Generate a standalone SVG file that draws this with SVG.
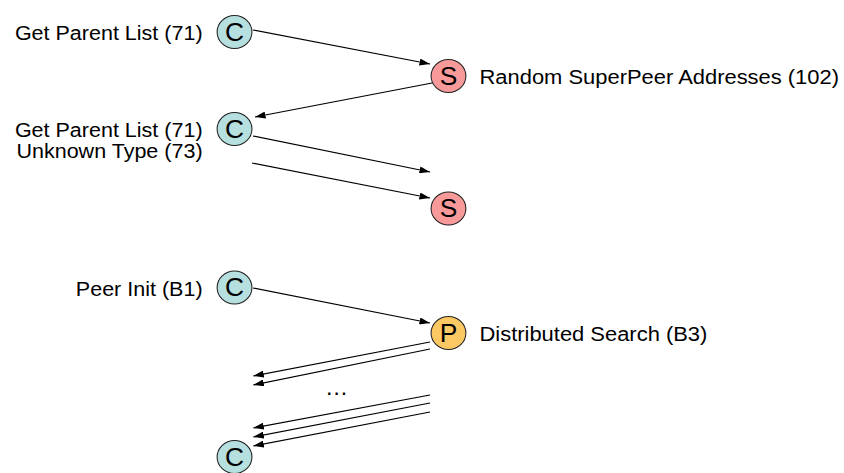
<svg xmlns="http://www.w3.org/2000/svg" width="844" height="473" viewBox="0 0 844 473">
  <defs>
    <style>
      .lbl { font-family: "Liberation Sans", Arial, sans-serif; font-size: 20.8px; fill: #000; }
      .end { text-anchor: end; font-size: 20.4px; }
      .node circle { stroke: #222; stroke-width: 1; }
      .node text { font-family: "Liberation Sans", Arial, sans-serif; font-size: 25px; text-anchor: middle; fill: #000; }
      .client circle { fill: #b6dfdf; }
      .super circle { fill: #f99a9a; }
      .peer circle { fill: #fcc864; }
      .msg line { stroke: #000; stroke-width: 1.2; marker-end: url(#head); }
    </style>
    <marker id="head" markerUnits="userSpaceOnUse" markerWidth="10" markerHeight="7" refX="10" refY="3.5" orient="auto">
      <path d="M0,0 L10,3.5 L0,7 z" fill="#000"/>
    </marker>
  </defs>
  <rect width="844" height="473" fill="#fff"/>
  <!-- drawing is slightly widened horizontally -->
  <g transform="scale(1.055,1)">
    <!-- labels -->
    <text class="lbl end" x="192" y="40">Get Parent List (71)</text>
    <text class="lbl" x="454.5" y="84">Random SuperPeer Addresses (102)</text>
    <text class="lbl end" x="192" y="137">Get Parent List (71)</text>
    <text class="lbl end" x="192" y="158.5">Unknown Type (73)</text>
    <text class="lbl end" x="192" y="296">Peer Init (B1)</text>
    <text class="lbl" x="454.5" y="341">Distributed Search (B3)</text>
    <text class="lbl" x="308" y="395" style="font-size:22px">…</text>

    <!-- nodes -->
    <g id="c1" class="node client"><circle cx="222.3" cy="32" r="16.5"/><text x="222.3" y="41">C</text></g>
    <g id="s1" class="node super"><circle cx="425.1" cy="76" r="16.5"/><text x="425.1" y="85">S</text></g>
    <g id="c2" class="node client"><circle cx="222.3" cy="129" r="16.5"/><text x="222.3" y="138">C</text></g>
    <g id="s2" class="node super"><circle cx="425.1" cy="208.5" r="16.5"/><text x="425.1" y="217.5">S</text></g>
    <g id="c3" class="node client"><circle cx="222.3" cy="287.5" r="16.5"/><text x="222.3" y="296.5">C</text></g>
    <g id="p1" class="node peer"><circle cx="425.1" cy="333" r="16.5"/><text x="425.1" y="342">P</text></g>
    <g id="c4" class="node client"><circle cx="222.3" cy="457" r="16.5"/><text x="222.3" y="466">C</text></g>

    <!-- connectors -->
    <g id="connectors" class="msg">
      <line x1="239.8" y1="30" x2="407.6" y2="64"/>
      <line x1="409.5" y1="83" x2="241.7" y2="117"/>
      <line x1="239.8" y1="136" x2="407.6" y2="172"/>
      <line x1="238.9" y1="163" x2="407.6" y2="198"/>
      <line x1="239.8" y1="288" x2="407.6" y2="323"/>
      <line x1="407.6" y1="342" x2="240.1" y2="376"/>
      <line x1="407.6" y1="349" x2="240.1" y2="385"/>
      <line x1="407.6" y1="395" x2="240.1" y2="428"/>
      <line x1="407.6" y1="403" x2="240.1" y2="437"/>
      <line x1="407.6" y1="412" x2="240.1" y2="446"/>
    </g>
  </g>
</svg>
